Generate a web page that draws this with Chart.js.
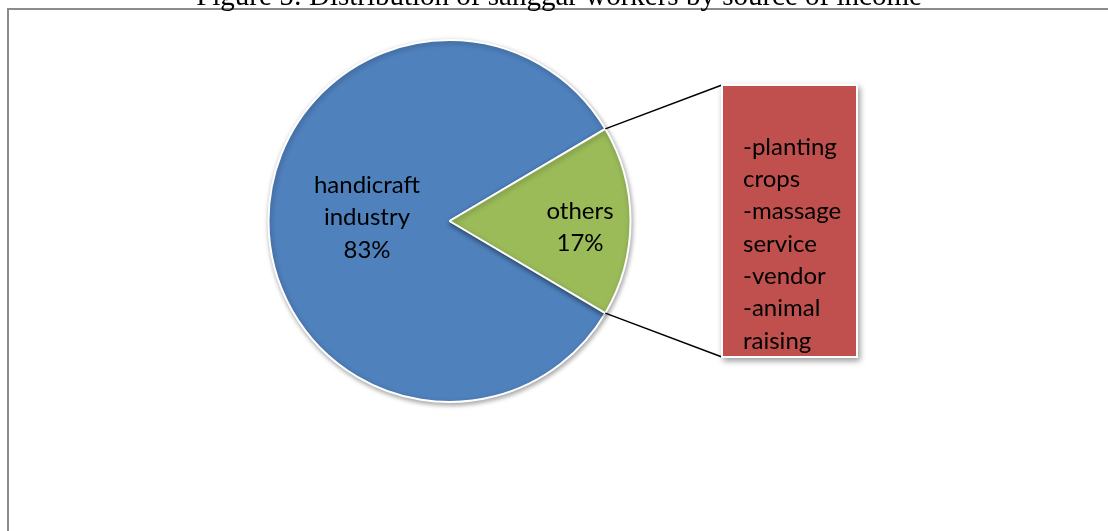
<!DOCTYPE html>
<html>
<head>
<meta charset="utf-8">
<script src="https://cdn.jsdelivr.net/npm/chart.js@4"></script>
<style>
  body { margin: 0; background: #fff; }
  canvas { display: block; }
</style>
</head>
<body>
<canvas id="myChart" width="1108" height="531"></canvas>
<script>
/* data */
const labels = ['handicraft industry', 'others'];
const labelLines = [['handicraft', 'industry'], ['others']];
const shares = [83, 17];
const colors = ['#4F81BD', '#9BBB59'];
const otherSources = ['-planting', 'crops', '-massage', 'service', '-vendor', '-animal', 'raising'];
const titleText = 'Figure 5: Distribution of sanggar workers by source of income';

/* frame + title, drawn behind the pie */
const framePlugin = {
    id: 'frame',
    beforeDraw(chart) {
        const ctx = chart.ctx;
        ctx.save();
        ctx.strokeStyle = '#8c8c8c';
        ctx.lineWidth = 2;
        ctx.beginPath();
        ctx.moveTo(1110, 9);
        ctx.lineTo(8, 9);
        ctx.lineTo(8, 540);
        ctx.stroke();
        ctx.fillStyle = '#000';
        ctx.font = '29px "Liberation Serif", "Times New Roman", serif';
        ctx.textAlign = 'center';
        ctx.textBaseline = 'alphabetic';
        ctx.fillText(titleText, 559, 5);
        ctx.restore();
    }
};

/* soft shadow under the pie */
const shadowPlugin = {
    id: 'pieShadow',
    beforeDatasetsDraw(chart) {
        const ctx = chart.ctx;
        ctx.save();
        ctx.shadowColor = 'rgba(0,0,0,0.35)';
        ctx.shadowBlur = 5;
        ctx.shadowOffsetX = 1;
        ctx.shadowOffsetY = 2;
    },
    afterDatasetsDraw(chart) {
        chart.ctx.restore();
    }
};

/* slice labels, connector lines and the red "others" box */
const detailPlugin = {
    id: 'details',
    afterDraw(chart) {
        const ctx = chart.ctx;
        const arcs = chart.getDatasetMeta(0).data;
        const font = '24px Lato, "Open Sans", sans-serif';
        ctx.save();

        // labels inside slices
        ctx.fillStyle = '#000';
        ctx.font = font;
        ctx.textAlign = 'center';
        ctx.textBaseline = 'middle';
        const labelPos = [[367, 185], [580, 211]];
        arcs.forEach(function(arc, i) {
            const lines = labelLines[i].concat([shares[i] + '%']);
            lines.forEach(function(t, j) {
                ctx.fillText(t, labelPos[i][0], labelPos[i][1] + j * 32.5);
            });
        });

        // connectors from the others slice to the box
        const box = {x: 722, y: 85, w: 135, h: 272};
        const o = arcs[1];
        const r = o.outerRadius;
        const p1 = [o.x + r * Math.cos(o.startAngle), o.y + r * Math.sin(o.startAngle)];
        const p2 = [o.x + r * Math.cos(o.endAngle), o.y + r * Math.sin(o.endAngle)];
        const top = p1[1] < p2[1] ? p1 : p2;
        const bot = p1[1] < p2[1] ? p2 : p1;
        ctx.strokeStyle = '#000';
        ctx.lineWidth = 1.5;
        ctx.beginPath();
        ctx.moveTo(top[0], top[1]);
        ctx.lineTo(box.x, box.y);
        ctx.moveTo(bot[0], bot[1]);
        ctx.lineTo(box.x, box.y + box.h);
        ctx.stroke();

        // box with shadow
        ctx.save();
        ctx.shadowColor = 'rgba(0,0,0,0.4)';
        ctx.shadowBlur = 6;
        ctx.shadowOffsetX = 2;
        ctx.shadowOffsetY = 3;
        ctx.fillStyle = '#fff';
        ctx.fillRect(box.x - 1, box.y - 1, box.w + 2, box.h + 2);
        ctx.restore();
        ctx.fillStyle = '#C0504D';
        ctx.fillRect(box.x + 1, box.y + 1, box.w - 2, box.h - 2);

        ctx.fillStyle = '#000';
        ctx.font = font;
        ctx.textAlign = 'left';
        ctx.textBaseline = 'middle';
        otherSources.forEach(function(t, i) {
            ctx.fillText(t, 743, 147 + i * 32.3);
        });
        ctx.restore();
    }
};

const ctx = document.getElementById('myChart');
const myChart = new Chart(ctx, {
    type: 'pie',
    data: {
        labels: labels,
        datasets: [{
            data: shares,
            backgroundColor: colors,
            borderColor: '#ffffff',
            borderWidth: 2
        }]
    },
    options: {
        responsive: false,
        animation: false,
        rotation: 120.6,
        layout: {
            padding: {left: 267, right: 476, top: 39, bottom: 128}
        },
        plugins: {
            legend: { display: false },
            tooltip: { enabled: false },
            title: { display: false }
        }
    },
    plugins: [framePlugin, shadowPlugin, detailPlugin]
});
</script>
</body>
</html>
